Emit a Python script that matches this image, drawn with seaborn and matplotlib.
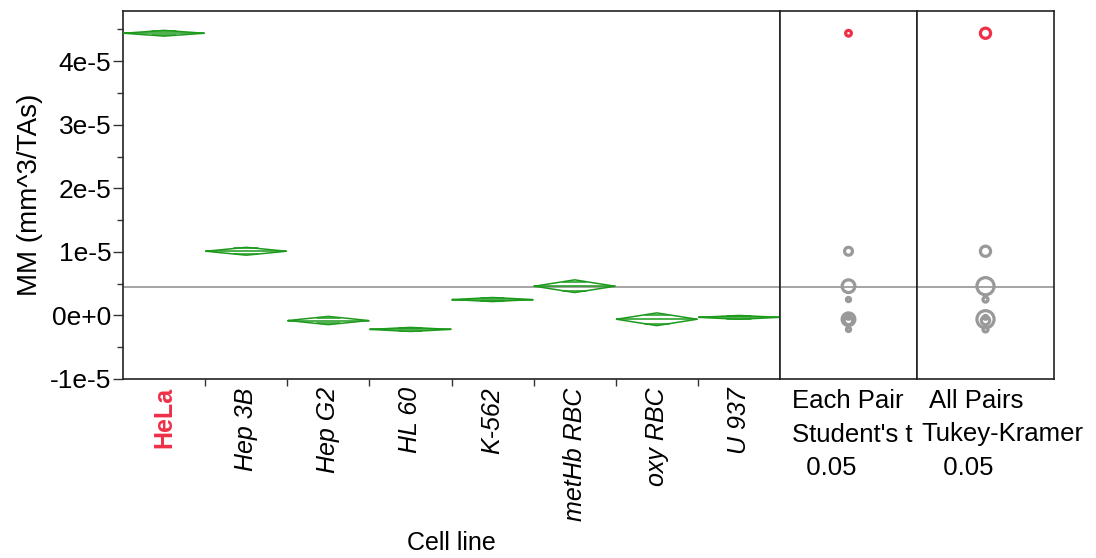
import numpy as np
import pandas as pd
import matplotlib
matplotlib.use("Agg")
import matplotlib.pyplot as plt
from matplotlib.patches import Ellipse
from matplotlib.ticker import FixedLocator, FixedFormatter, MultipleLocator
import seaborn as sns

sns.set_theme(style="ticks")
plt.rcParams["font.family"] = ["Liberation Sans", "DejaVu Sans"]
plt.rcParams.update({"text.color": "black", "axes.labelcolor": "black",
                     "xtick.color": "black", "ytick.color": "black"})

# Group summaries: mean MM and 95% CI half-widths
cell_lines = ["HeLa", "Hep 3B", "Hep G2", "HL 60", "K-562", "metHb RBC", "oxy RBC", "U 937"]
means = [4.44e-5, 1.01e-5, -0.08e-5, -0.22e-5, 0.25e-5, 0.46e-5, -0.06e-5, -0.03e-5]
ci_half = [0.045e-5, 0.062e-5, 0.065e-5, 0.032e-5, 0.032e-5, 0.10e-5, 0.10e-5, 0.03e-5]
tukey_radius = [0.08e-5, 0.08e-5, 0.065e-5, 0.04e-5, 0.04e-5, 0.135e-5, 0.135e-5, 0.03e-5]
grand_mean = 0.44e-5
highlight = "HeLa"

y_ticks = [-1e-5, 0, 1e-5, 2e-5, 3e-5, 4e-5]
y_tick_labels = ["-1e-5", "0e+0", "1e-5", "2e-5", "3e-5", "4e-5"]
y_limits = (-1e-5, 4.79e-5)

GREEN = "#1c9a1c"
GREY = "#999999"
RED = "#ee3048"

W, H = 1096, 558
fig = plt.figure(figsize=(W / 100, H / 100), dpi=100)
top, bottom = 11, 379
ph = (bottom - top) / H
yb = 1 - bottom / H
ax = fig.add_axes([123 / W, yb, (780 - 123) / W, ph])
axE = fig.add_axes([780 / W, yb, 137 / W, ph])
axA = fig.add_axes([917 / W, yb, 137 / W, ph])

# Means diamonds as outline polygons, one unit per cell line
rows = []
for i, (name, m, c) in enumerate(zip(cell_lines, means, ci_half)):
    x0, x1, xc = i + 0.01, i + 0.99, i + 0.5
    for k, (x, y) in enumerate([(x0, m), (xc, m + c), (x1, m), (xc, m - c), (x0, m)]):
        rows.append({"cell": name, "part": "diamond", "order": k, "x": x, "y": y})
    rows.append({"cell": name, "part": "mean", "order": 0, "x": x0, "y": m})
    rows.append({"cell": name, "part": "mean", "order": 1, "x": x1, "y": m})
    off = c / np.sqrt(2)
    half = 0.49 * (1 - 1 / np.sqrt(2))
    for s, tag in [(1, "ov_hi"), (-1, "ov_lo")]:
        rows.append({"cell": name, "part": tag, "order": 0, "x": xc - half, "y": m + s * off})
        rows.append({"cell": name, "part": tag, "order": 1, "x": xc + half, "y": m + s * off})
df = pd.DataFrame(rows)
df["unit"] = df["cell"] + "|" + df["part"]

ax.axhline(grand_mean, color="#8c8c8c", lw=1.1, zorder=1)
sns.lineplot(data=df, x="x", y="y", units="unit", estimator=None, sort=False,
             color=GREEN, lw=1.1, ax=ax, legend=False, zorder=3)

ax.set_xlim(0, len(cell_lines))
ax.set_ylim(*y_limits)
ax.set_xlabel("")
ax.set_ylabel("")
ax.yaxis.set_major_locator(FixedLocator(y_ticks))
ax.yaxis.set_major_formatter(FixedFormatter(y_tick_labels))
ax.yaxis.set_minor_locator(MultipleLocator(0.5e-5))
ax.tick_params(axis="y", which="major", labelsize=19, length=7.5, width=1, pad=1, color="#333333")
ax.tick_params(axis="y", which="minor", length=4.5, width=1, color="#333333")

ax.xaxis.set_major_locator(FixedLocator(np.arange(len(cell_lines)) + 0.5))
ax.xaxis.set_major_formatter(FixedFormatter(cell_lines))
ax.xaxis.set_minor_locator(FixedLocator(np.arange(1, len(cell_lines))))
ax.tick_params(axis="x", which="major", length=0, pad=6)
ax.tick_params(axis="x", which="minor", length=5, width=1, color="#333333")
for lbl in ax.get_xticklabels():
    lbl.set_rotation(90)
    lbl.set_va("top")
    lbl.set_ha("center")
    lbl.set_fontsize(18)
    if lbl.get_text() == highlight:
        lbl.set_color(RED)
        lbl.set_fontweight("bold")
    else:
        lbl.set_fontstyle("italic")
        lbl.set_color("black")

fig.text(30 / W, 1 - 195 / H, "MM (mm^3/TAs)", rotation=90, fontsize=20,
         ha="center", va="center")
fig.text(451 / W, 1 - 543 / H, "Cell line", fontsize=18, ha="center", va="center")

# Comparison circles panels
panel_px_w, panel_px_h = 137, bottom - top
y_span = y_limits[1] - y_limits[0]
for pax, radii in [(axE, ci_half), (axA, tukey_radius)]:
    pax.set_xlim(0, 1)
    pax.set_ylim(*y_limits)
    pax.axhline(grand_mean, color="#8c8c8c", lw=1.1, zorder=1)
    for name, m, r in zip(cell_lines, means, radii):
        r_px = r / y_span * panel_px_h
        w = 2 * r_px / panel_px_w
        col = RED if name == highlight else GREY
        pax.add_patch(Ellipse((0.5, m), w, 2 * r, fill=False, ec=col, lw=2.3, zorder=3))
    pax.set_xticks([])
    pax.set_yticks([])

for a in (ax, axE, axA):
    for sp in a.spines.values():
        sp.set_visible(True)
        sp.set_color("#222222")
        sp.set_linewidth(1.2)

# Panel captions: (left edge px, text) per line
captions = [
    [(792, "Each Pair"), (792, "Student's t"), (792, "  0.05")],
    [(929, "All Pairs"), (921, "Tukey-Kramer"), (929, "  0.05")],
]
for col in captions:
    for j, (x_left, t) in enumerate(col):
        fig.text(x_left / W, 1 - (401 + j * 33.5) / H, t, fontsize=18.5,
                 ha="left", va="center", color="black")

fig.savefig("out.png", dpi=100, facecolor="white")
